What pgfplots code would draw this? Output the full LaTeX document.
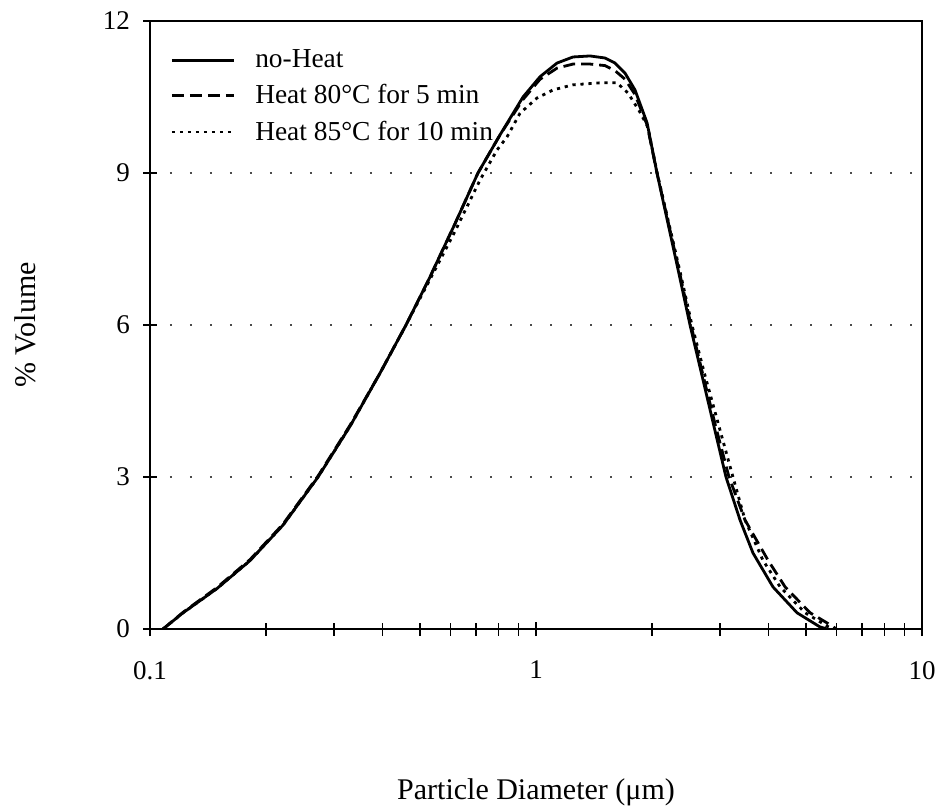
\documentclass[border=0pt]{standalone}
\usepackage{fontspec}
\setmainfont{Liberation Serif}
\usepackage{pgfplots}
\pgfplotsset{compat=1.18}
\begin{document}
\begin{tikzpicture}
\path[use as bounding box] (-75pt,-90pt) rectangle (395pt,314.5pt);
\begin{axis}[
  at={(0,0)}, anchor=south west,
  scale only axis, width=386pt, height=304pt,
  xmode=log, xmin=0.1, xmax=10, ymin=0, ymax=12,
  xtick={0.1,1,10}, xticklabels={0.1,1,10},
  minor xtick={0.2,0.3,0.4,0.5,0.6,0.7,0.8,0.9,2,3,4,5,6,7,8,9},
  ytick={0,3,6,9,12},
  tick pos=left,
  tick align=center, major tick length=7pt, minor tick length=6.5pt,
  tick style={black, line width=0.8pt},
  axis line style={line width=0.9pt},
  /pgf/number format/assume math mode=true,
  ticklabel style={font=\fontsize{13.5}{15}\selectfont},
  xticklabel style={yshift=-9pt},
  yticklabel style={xshift=-3pt},
  ymajorgrids, grid style={gray!60!black, line width=0.8pt, dash pattern=on 1pt off 9pt},
  label style={font=\fontsize{15}{17}\selectfont},
  xlabel={Particle Diameter (μm)},
  ylabel={\% Volume},
  xlabel style={at={(axis description cs:0.5,-0.268)}, anchor=center},
  ylabel style={at={(axis description cs:-0.162,0.5)}, anchor=center, rotate=0},
  legend style={draw=none, fill=none, at={(axis description cs:0.026,0.96)}, anchor=north west,
    font=\fontsize{13.7}{15}\selectfont, row sep=3pt, inner sep=0pt,
    /tikz/every odd column/.append style={column sep=8pt}},
  legend cell align=left,
  legend image code/.code={\draw[#1] (0pt,0pt) -- (31pt,0pt);},
  every axis plot/.append style={line width=1.4pt, black},
]
\addplot[solid] coordinates {
(0.1081,0) (0.1218,0.32) (0.1492,0.8) (0.1816,1.35) (0.2211,2.05) (0.2725,3.0)
(0.3297,4.0) (0.3944,5.05) (0.4605,6.0) (0.5314,6.95) (0.6169,8.0) (0.7074,9.0)
(0.8065,9.75) (0.9254,10.5) (1.0242,10.9) (1.1336,11.17) (1.2468,11.29) (1.380,11.31)
(1.509,11.27) (1.602,11.17) (1.701,10.97) (1.805,10.64) (1.940,9.99) (2.058,9.0)
(2.198,8.0) (2.348,7.0) (2.506,6.0) (2.692,5.0) (2.891,4.0) (3.106,3.0)
(3.378,2.15) (3.649,1.5) (4.111,0.83) (4.745,0.32) (5.443,0.04) (6.024,-0.05)
};
\addlegendentry{no-Heat}
\addplot[dash pattern=on 6pt off 3pt] coordinates {
(0.1081,0) (0.1218,0.33) (0.1492,0.82) (0.1816,1.37) (0.2211,2.07) (0.2725,3.02)
(0.3297,4.02) (0.3944,5.05) (0.4605,6.0) (0.5314,6.95) (0.6169,8.0) (0.7074,9.0)
(0.8065,9.75) (0.9254,10.45) (1.0242,10.85) (1.1336,11.07) (1.2468,11.15) (1.380,11.15)
(1.509,11.12) (1.602,11.02) (1.701,10.85) (1.805,10.55) (1.940,9.95) (2.058,9.0)
(2.205,8.0) (2.36,7.0) (2.52,6.0) (2.71,5.0) (2.92,4.0) (3.162,3.0)
(3.48,2.15) (3.99,1.36) (4.42,0.83) (5.13,0.32) (5.88,0.05) (6.1,-0.05)
};
\addlegendentry{Heat 80°C for 5 min}
\addplot[dash pattern=on 1.6pt off 2.4pt] coordinates {
(0.1081,0) (0.1218,0.32) (0.1492,0.8) (0.1816,1.35) (0.2211,2.05) (0.2725,3.0)
(0.3297,4.0) (0.3944,5.05) (0.4605,6.0) (0.5314,6.9) (0.6169,7.85) (0.716,8.86)
(0.792,9.45) (0.841,9.71) (0.909,10.18) (1.006,10.48) (1.107,10.64) (1.247,10.74)
(1.465,10.78) (1.621,10.78) (1.731,10.58) (1.860,10.2) (1.950,9.9) (2.06,9.0)
(2.21,8.0) (2.37,7.0) (2.535,6.0) (2.741,5.0) (2.979,4.0) (3.238,3.0)
(3.48,2.15) (3.87,1.36) (4.29,0.83) (4.98,0.32) (5.70,0.05) (6.05,-0.05)
};
\addlegendentry{Heat 85°C for 10 min}
\end{axis}
\end{tikzpicture}
\end{document}
